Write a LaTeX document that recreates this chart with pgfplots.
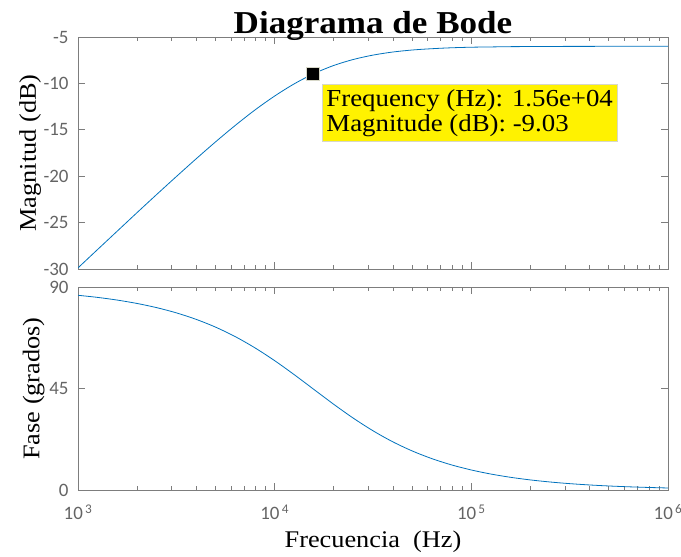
\documentclass[border=0pt]{standalone}
\usepackage{fontspec}
\setmainfont{Liberation Serif}[FakeStretch=1.1]
\newfontfamily\tickfont{Carlito}
\usepackage{pgfplots}
\pgfplotsset{compat=1.18}
\definecolor{mblue}{RGB}{0,114,189}
\definecolor{axgray}{RGB}{125,125,125}
\definecolor{tickgray}{RGB}{100,100,100}
\definecolor{tipborder}{RGB}{215,215,200}

\pgfplotsset{bodestyle/.style={
  scale only axis, width=590bp, xmin=1e3, xmax=1e6,
  axis line style={axgray, line width=0.8bp},
  every tick/.style={axgray, line width=0.8bp},
  major tick length=7bp, minor tick length=4bp,
  tick align=inside, xtick pos=both, ytick pos=both,
  tick label style={font=\tickfont\fontsize{19}{19}\selectfont, text=tickgray},
  yticklabel style={xshift=-6bp},
  xticklabel style={yshift=-11bp},
  label style={font=\fontsize{24}{26}\selectfont},
  xtick={1e3,1e4,1e5,1e6},
  every axis title shift=0pt,
}}

\begin{document}
\begin{tikzpicture}
\useasboundingbox (0,0) rectangle (681bp,-557bp);

\begin{semilogxaxis}[bodestyle, name=mag,
  at={(78bp,-37bp)}, anchor=north west,
  height=232bp, ymin=-30, ymax=-5,
  ytick={-30,-25,-20,-15,-10,-5},
  yticklabels={-30,-25,-20,-15,-10,-5},
  xticklabels={},
  ylabel={Magnitud (dB)},
  ylabel style={at={(axis description cs:-0.081,0.5)}, anchor=center},
  title={Diagrama de Bode},
  title style={at={(axis description cs:0.5,1.013)}, anchor=base, font=\bfseries\fontsize{32}{32}\selectfont},
]
\addplot[mblue, line width=0.8bp, smooth] coordinates {
(1000,-29.88) (1258.9,-27.89) (1584.9,-25.91) (1995.3,-23.93) (2511.9,-21.97)
(3162.3,-20.04) (3981.1,-18.14) (5011.9,-16.29) (6309.6,-14.52) (7943.3,-12.86)
(10000,-11.36) (12589,-10.04) (15849,-8.94) (19953,-8.07) (25119,-7.42)
(31623,-6.95) (39811,-6.62) (50119,-6.40) (63096,-6.26) (79433,-6.16)
(100000,-6.10) (125890,-6.07) (158490,-6.04) (199530,-6.03) (251190,-6.02)
(316230,-6.01) (398110,-6.01) (501190,-6.00) (630960,-6.00) (794330,-6.00)
(1000000,-6.00)
};
\addplot[only marks, mark=square*, mark size=6.5bp,
  mark options={fill=black, draw=tipborder, line width=0.8bp}] coordinates {(15600,-9.03)};
\node[anchor=north west, fill=yellow, draw=tipborder, line width=0.8bp,
  align=left, inner xsep=4bp, inner ysep=5bp, font=\fontsize{24.5}{25}\selectfont]
  at (axis cs:17400,-10.1) {Frequency (Hz): 1.56e+04\\Magnitude (dB): -9.03};
\end{semilogxaxis}

\begin{semilogxaxis}[bodestyle, name=phase,
  at={(78bp,-287bp)}, anchor=north west,
  height=203bp, ymin=0, ymax=90,
  ytick={0,45,90}, yticklabels={0,45,90},
  xticklabels={10\textsuperscript{\,3},10\textsuperscript{\,4},10\textsuperscript{\,5},10\textsuperscript{\,6}},
  ylabel={Fase (grados)},
  ylabel style={at={(axis description cs:-0.075,0.5)}, anchor=center},
  xlabel={Frecuencia\ \ (Hz)},
  xlabel style={at={(axis description cs:0.5,-0.255)}, anchor=center},
]
\addplot[mblue, line width=0.8bp, smooth] coordinates {
(1000,86.33) (1258.9,85.39) (1584.9,84.20) (1995.3,82.71) (2511.9,80.85)
(3162.3,78.54) (3981.1,75.68) (5011.9,72.19) (6309.6,67.98) (7943.3,63.01)
(10000,57.34) (12589,51.10) (15849,44.55) (19953,38.02) (25119,31.84)
(31623,26.26) (39811,21.39) (50119,17.29) (63096,13.89) (79433,11.11)
(100000,8.87) (125890,7.06) (158490,5.62) (199530,4.47) (251190,3.55)
(316230,2.82) (398110,2.24) (501190,1.78) (630960,1.42) (794330,1.13)
(1000000,0.89)
};
\end{semilogxaxis}
\end{tikzpicture}
\end{document}
